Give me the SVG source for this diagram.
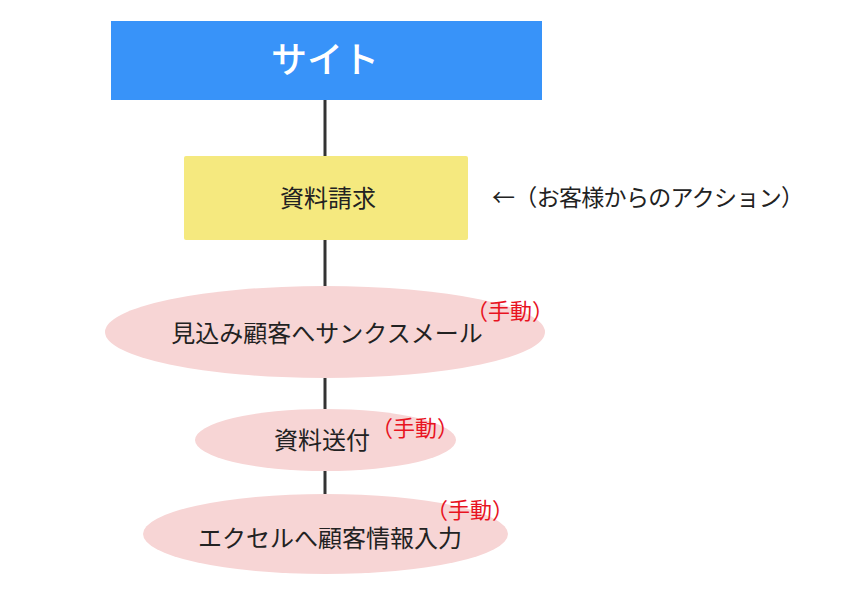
<svg xmlns="http://www.w3.org/2000/svg" width="843" height="589" viewBox="0 0 843 589">
<style>
text{font-family:"Noto Sans CJK JP","Noto Sans",sans-serif;}
.lbl{font-size:24px;fill:#222;text-anchor:middle;}
.note{font-size:22px;fill:#e8131f;}
.ell{fill:#f7d5d5;}
.conn{stroke:#333;stroke-width:3;fill:none;}
</style>
<rect width="843" height="589" fill="#fff"/>
<g id="connectors">
<line class="conn" x1="325" y1="100" x2="325" y2="156"/>
<line class="conn" x1="325" y1="240" x2="325" y2="287"/>
<line class="conn" x1="325" y1="378" x2="325" y2="409"/>
<line class="conn" x1="325" y1="471" x2="325" y2="494"/>
</g>
<g id="site">
<rect x="111" y="21" width="431" height="79" fill="#3893f9"/>
<text x="325" y="73" style="font-size:36px;fill:#fff;text-anchor:middle;font-weight:500;">サイト</text>
</g>
<g id="request">
<rect x="184" y="156" width="284" height="84" rx="2" fill="#f5e97f"/>
<text class="lbl" x="328" y="207">資料請求</text>
</g>
<text x="492" y="206" style="font-size:23px;fill:#222;" textLength="312">←（お客様からのアクション）</text>
<g id="thanks">
<ellipse class="ell" cx="325" cy="332" rx="220" ry="46"/>
<text class="lbl" x="327" y="342">見込み顧客へサンクスメール</text>
<text class="note" x="466" y="319">（手動）</text>
</g>
<g id="send">
<ellipse class="ell" cx="325.5" cy="440" rx="130.5" ry="31"/>
<text class="lbl" x="322" y="449">資料送付</text>
<text class="note" x="371" y="436">（手動）</text>
</g>
<g id="excel">
<ellipse class="ell" cx="325.5" cy="534" rx="182.5" ry="40"/>
<text class="lbl" x="330" y="547">エクセルへ顧客情報入力</text>
<text class="note" x="426" y="518">（手動）</text>
</g>
</svg>
